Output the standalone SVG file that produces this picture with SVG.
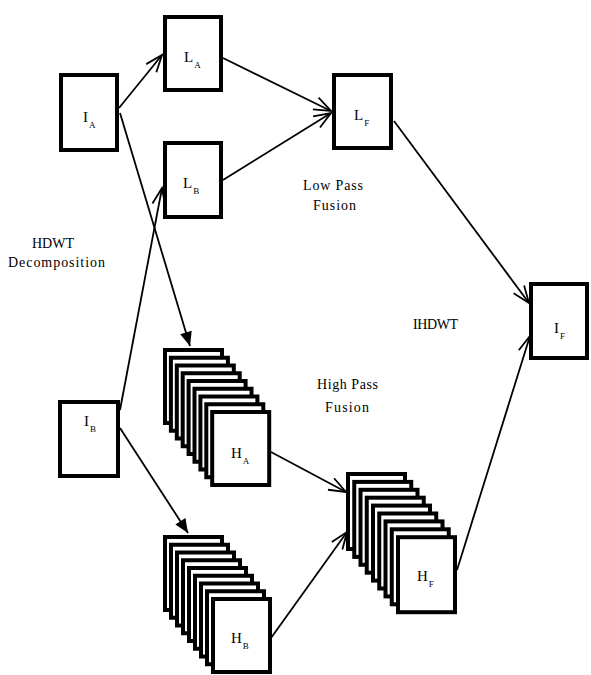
<svg xmlns="http://www.w3.org/2000/svg" width="591" height="675" viewBox="0 0 591 675">
<defs>
<style>
.box{fill:#fff;stroke:#000;stroke-width:4}
.con{stroke:#000;stroke-width:1.8;fill:none}
.open{marker-end:url(#openArrow)}
.filled{marker-end:url(#fillArrow)}
text{font-family:"Liberation Serif","Times New Roman",serif;font-size:14px;fill:#000}
.lbl{font-size:15px}
.sub{font-size:9px}
</style>
<marker id="openArrow" markerUnits="userSpaceOnUse" viewBox="-20 -10 22 20" refX="0" refY="0" markerWidth="22" markerHeight="20" orient="auto" overflow="visible">
<path d="M-17,-6.5 L0,0 L-17,6.5" fill="none" stroke="#000" stroke-width="1.8"/>
</marker>
<marker id="fillArrow" markerUnits="userSpaceOnUse" viewBox="-16 -8 18 16" refX="0" refY="0" markerWidth="18" markerHeight="16" orient="auto" overflow="visible">
<path d="M0,0 L-14,-6 L-14,6 Z" fill="#000"/>
</marker>
</defs>
<rect width="591" height="675" fill="#fff"/>

<g id="connectors">
<line class="con open" x1="119" y1="108" x2="162" y2="55"/>
<line class="con filled" x1="120" y1="113" x2="190" y2="346"/>
<line class="con open" x1="223" y1="58" x2="331" y2="111"/>
<line class="con open" x1="223" y1="180" x2="331" y2="113"/>
<line class="con open" x1="120" y1="410" x2="162" y2="188"/>
<line class="con filled" x1="120" y1="428" x2="188" y2="533"/>
<line class="con open" x1="271" y1="452" x2="346" y2="492"/>
<line class="con open" x1="271" y1="638" x2="347" y2="532"/>
<line class="con open" x1="394" y1="121" x2="529" y2="303"/>
<line class="con open" x1="457" y1="570" x2="530" y2="336"/>
</g>

<g id="IA">
<rect class="box" x="61" y="75" width="56" height="75"/>
<text class="lbl" x="83" y="122">I<tspan class="sub" dx="1" dy="6">A</tspan></text>
</g>
<g id="LA">
<rect class="box" x="165" y="17" width="56" height="73"/>
<text class="lbl" x="184" y="62">L<tspan class="sub" dx="1" dy="6">A</tspan></text>
</g>
<g id="LB">
<rect class="box" x="165" y="143" width="56" height="74"/>
<text class="lbl" x="183" y="188">L<tspan class="sub" dx="1" dy="6">B</tspan></text>
</g>
<g id="LF">
<rect class="box" x="334" y="75" width="57" height="73"/>
<text class="lbl" x="354" y="120">L<tspan class="sub" dx="1" dy="6">F</tspan></text>
</g>
<g id="IF">
<rect class="box" x="531" y="284" width="56" height="74"/>
<text class="lbl" x="554" y="333">I<tspan class="sub" dx="1" dy="6">F</tspan></text>
</g>
<g id="IB">
<rect class="box" x="60" y="402" width="58" height="74"/>
<text class="lbl" x="84" y="426">I<tspan class="sub" dx="1" dy="6">B</tspan></text>
</g>

<g id="HA">
<rect class="box" x="165" y="350" width="57" height="73"/>
<rect class="box" x="170.9" y="357.75" width="57" height="73"/>
<rect class="box" x="176.8" y="365.5" width="57" height="73"/>
<rect class="box" x="182.7" y="373.25" width="57" height="73"/>
<rect class="box" x="188.6" y="381" width="57" height="73"/>
<rect class="box" x="194.5" y="388.75" width="57" height="73"/>
<rect class="box" x="200.4" y="396.5" width="57" height="73"/>
<rect class="box" x="206.3" y="404.25" width="57" height="73"/>
<rect class="box" x="212.2" y="412" width="57" height="73"/>
<text class="lbl" x="231" y="458">H<tspan class="sub" dx="1" dy="6">A</tspan></text>
</g>
<g id="HB">
<rect class="box" x="165" y="537" width="57" height="73"/>
<rect class="box" x="171" y="544.75" width="57" height="73"/>
<rect class="box" x="177" y="552.5" width="57" height="73"/>
<rect class="box" x="183" y="560.25" width="57" height="73"/>
<rect class="box" x="189" y="568" width="57" height="73"/>
<rect class="box" x="195" y="575.75" width="57" height="73"/>
<rect class="box" x="201" y="583.5" width="57" height="73"/>
<rect class="box" x="207" y="591.25" width="57" height="73"/>
<rect class="box" x="213" y="599" width="57" height="73"/>
<text class="lbl" x="231" y="643">H<tspan class="sub" dx="1" dy="6">B</tspan></text>
</g>
<g id="HF">
<rect class="box" x="348" y="474" width="57" height="75"/>
<rect class="box" x="354.25" y="481.9" width="57" height="75"/>
<rect class="box" x="360.5" y="489.8" width="57" height="75"/>
<rect class="box" x="366.75" y="497.7" width="57" height="75"/>
<rect class="box" x="373" y="505.6" width="57" height="75"/>
<rect class="box" x="379.25" y="513.5" width="57" height="75"/>
<rect class="box" x="385.5" y="521.4" width="57" height="75"/>
<rect class="box" x="391.75" y="529.3" width="57" height="75"/>
<rect class="box" x="398" y="537.2" width="57" height="75"/>
<text class="lbl" x="417" y="581">H<tspan class="sub" dx="1" dy="6">F</tspan></text>
</g>

<g id="labels">
<text x="53" y="248" text-anchor="middle">HDWT</text>
<text x="8" y="267" textLength="97" lengthAdjust="spacing">Decomposition</text>
<text x="303" y="190" textLength="60" lengthAdjust="spacing">Low Pass</text>
<text x="313" y="210" textLength="43" lengthAdjust="spacing">Fusion</text>
<text x="413" y="329" textLength="45" lengthAdjust="spacing">IHDWT</text>
<text x="317" y="389" textLength="61" lengthAdjust="spacing">High Pass</text>
<text x="325" y="412" textLength="44" lengthAdjust="spacing">Fusion</text>
</g>
</svg>
